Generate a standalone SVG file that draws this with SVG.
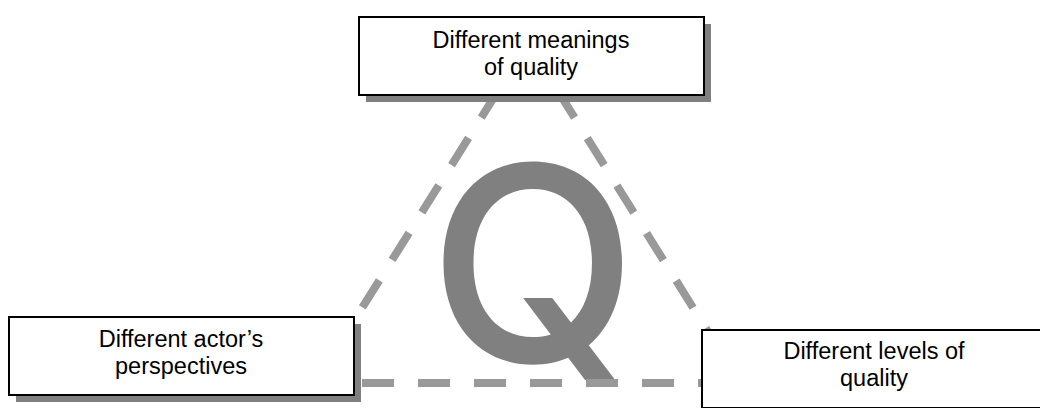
<svg xmlns="http://www.w3.org/2000/svg" width="1040" height="408" viewBox="0 0 1040 408">
<style>
.edge{fill:none;stroke:#999999;stroke-width:8;stroke-dasharray:32 24}
.shadow{fill:#808080;stroke:none}
.box{fill:#ffffff;stroke:#000000;stroke-width:2}
.lbl{font-family:"Liberation Sans",Arial,sans-serif;font-size:23.5px;fill:#000000;text-anchor:middle}
.q{font-family:Inter,"Liberation Sans",sans-serif;font-size:272px;font-weight:500;fill:#808080;text-anchor:middle}
</style>
<rect width="1040" height="408" fill="#ffffff"/>
<text class="q" x="533" y="362">Q</text>
<g id="connectors">
<line class="edge" x1="528" y1="43" x2="315" y2="383"/>
<line class="edge" x1="528" y1="43" x2="740" y2="383"/>
<line class="edge" x1="362" y1="383" x2="740" y2="383"/>
</g>
<g id="node-meanings">
<rect class="shadow" x="366" y="24" width="345" height="78"/>
<rect class="box" x="359" y="17" width="345" height="78"/>
<text class="lbl" x="531" y="48">Different meanings</text>
<text class="lbl" x="531" y="75">of quality</text>
</g>
<g id="node-actors">
<rect class="shadow" x="16" y="324" width="345" height="78"/>
<rect class="box" x="9" y="317" width="345" height="78"/>
<text class="lbl" x="181" y="347">Different actor’s</text>
<text class="lbl" x="181" y="374">perspectives</text>
</g>
<g id="node-levels">
<rect class="shadow" x="709" y="337" width="345" height="78"/>
<rect class="box" x="702" y="330" width="345" height="78"/>
<text class="lbl" x="874" y="359">Different levels of</text>
<text class="lbl" x="874" y="386">quality</text>
</g>
</svg>
